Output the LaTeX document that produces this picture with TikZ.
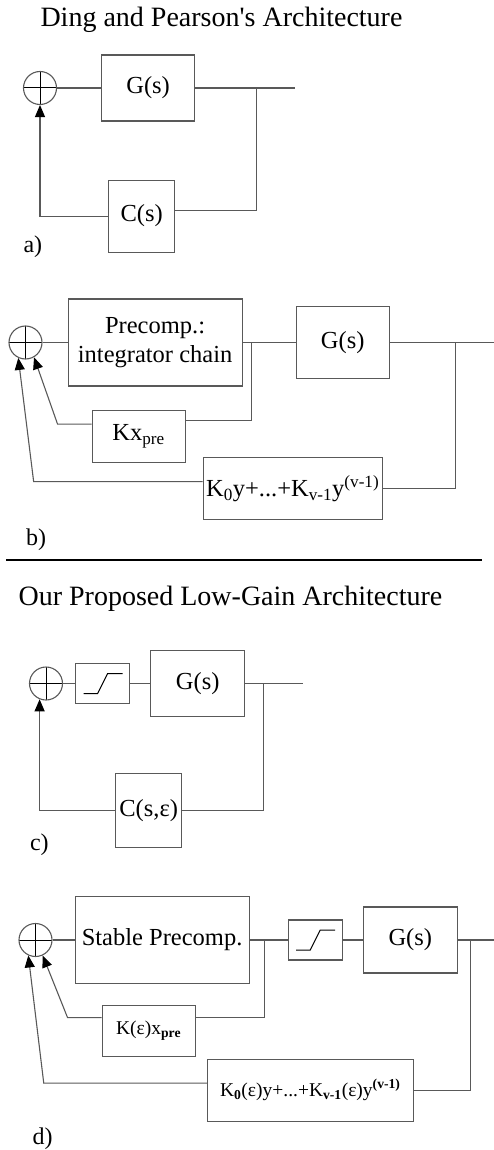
\documentclass[tikz,border=0pt]{standalone}
\usepackage{fontspec}
\setmainfont{Liberation Serif}
\newfontfamily\rawserif{Liberation Serif}
\usetikzlibrary{positioning,arrows.meta}

\begin{document}
\begin{tikzpicture}[
    x=1pt, y=1pt,
    >={Triangle[length=12pt,width=10pt,color=black]},
    wire/.style={draw=black!65, line width=1.1pt},
    block/.style={rectangle, draw=black!65, line width=1.1pt, inner sep=0pt, align=center, font=\fontsize{24.5}{29}\selectfont},
    small/.style={font=\fontsize{19.5}{23}\selectfont},
    sumpt/.style={circle, draw=black!65, line width=1.1pt, minimum size=33pt, inner sep=0pt,
        path picture={\draw[black, line width=1pt] (path picture bounding box.north) -- (path picture bounding box.south)
            (path picture bounding box.west) -- (path picture bounding box.east);}},
    satbox/.style={block, minimum width=54pt, minimum height=40pt,
        path picture={\draw[black, line width=1pt] ([shift={(-19pt,-10pt)}]path picture bounding box.center)
            -- ++(14pt,0) -- ++(10pt,20pt) -- ++(15pt,0);}},
    title/.style={anchor=base, font=\rawserif\fontsize{28}{32}\selectfont},
    tag/.style={anchor=base west, font=\fontsize{24}{28}\selectfont}
]
\useasboundingbox (0,0) rectangle (494,-1150);

% Panel a
\node[title] (titleA) at (221.5,-27) {Ding and Pearson's Architecture};
\node[sumpt] (sumA) at (40,-88) {};
\node[block, minimum width=93pt, minimum height=66pt, right=44pt of sumA] (gA) {G(s)};
\node[block, minimum width=66pt, minimum height=72pt, below=58pt of gA, xshift=-6.5pt] (cA) {C(s)};
\coordinate[right=61pt of gA] (brA);
\coordinate[right=100pt of gA] (outA);
\node[tag] (tagA) at (20,-253) {a)};

\draw[wire] (sumA) -- (gA);
\draw[wire] (gA) -- (outA);
\draw[wire] (brA) |- ([yshift=6pt]cA.east);
\draw[wire, ->] (cA.west) -| (sumA.south);

% Panel b
\node[sumpt] (sumB) at (25.5,-342.5) {};
\node[block, minimum width=174pt, minimum height=87pt, right=25pt of sumB] (preB) {Precomp.:\\integrator chain};
\node[block, minimum width=93pt, minimum height=72pt, right=53pt of preB] (gB) {G(s)};
\node[block, minimum width=93pt, minimum height=52pt, below=23pt of preB, xshift=-16.5pt] (kxB) {Kx\textsubscript{pre}};
\node[block, minimum width=179pt, minimum height=62pt, below=78pt of gB, xshift=-50pt] (kyB) {K\textsubscript{0}y+...+K\textsubscript{v-1}y\textsuperscript{(v-1)}};
\coordinate[right=9pt of preB] (brB1);
\coordinate[right=66pt of gB] (brB2);
\coordinate[right=107pt of gB] (outB);
\node[tag] (tagB) at (22.5,-545) {b)};

\draw[wire] (sumB) -- (preB);
\draw[wire] (preB) -- (gB);
\draw[wire] (gB) -- (outB);
\draw[wire] (brB1) |- ([yshift=16pt]kxB.east);
\draw[wire, ->] ([yshift=12pt]kxB.west) -- ++(-34pt,0) -- (sumB.-60);
\draw[wire] (brB2) |- (kyB.east);
\draw[wire, ->] ([yshift=7pt]kyB.west) -- ++(-169pt,0) -- (sumB.-115);

% Separator
\draw[black, line width=1.5pt] (6,-560) -- (482,-560);

% Panel c
\node[title] (titleC) at (230.5,-605) {Our Proposed Low-Gain Architecture};
\node[sumpt] (sumC) at (46,-683.5) {};
\node[satbox, right=12pt of sumC] (satC) {};
\node[block, minimum width=94pt, minimum height=66pt, right=20pt of satC] (gC) {G(s)};
\node[block, minimum width=66pt, minimum height=74pt, below=56pt of gC, xshift=-49pt] (cC) {C(s,ε)};
\coordinate[right=18pt of gC] (brC);
\coordinate[right=58pt of gC] (outC);
\node[tag] (tagC) at (26.5,-850) {c)};

\draw[wire] (sumC) -- (satC);
\draw[wire] (satC) -- (gC);
\draw[wire] (gC) -- (outC);
\draw[wire] (brC) |- (cC.east);
\draw[wire, ->] (cC.west) -| (sumC.-112);

% Panel d
\node[sumpt] (sumD) at (35.5,-940) {};
\node[block, minimum width=174pt, minimum height=87pt, right=22pt of sumD] (preD) {Stable Precomp.};
\node[satbox, right=38pt of preD] (satD) {};
\node[block, minimum width=94pt, minimum height=66pt, right=20pt of satD] (gD) {G(s)};
\node[block, small, minimum width=93pt, minimum height=51pt, below=21pt of preD, xshift=-13.5pt] (kxD) {K(ε)x\textsubscript{\textbf{pre}}};
\node[block, small, minimum width=206pt, minimum height=62pt, below=85pt of gD, xshift=-100pt] (kyD) {K\textsubscript{\textbf{0}}(ε)y+...+K\textsubscript{\textbf{v-1}}(ε)y\textsuperscript{\textbf{(v-1)}}};
\coordinate[right=15pt of preD] (brD1);
\coordinate[right=13pt of gD] (brD2);
\coordinate[right=41pt of gD] (outD);
\node[tag] (tagD) at (29,-1144) {d)};

\draw[wire] (sumD) -- (preD);
\draw[wire] (preD) -- (satD);
\draw[wire] (satD) -- (gD);
\draw[wire] (gD) -- (outD);
\draw[wire] (brD1) |- ([yshift=13.5pt]kxD.east);
\draw[wire, ->] ([yshift=13.5pt]kxD.west) -- ++(-34pt,0) -- (sumD.-65);
\draw[wire] (brD2) |- (kyD.east);
\draw[wire, ->] ([yshift=7pt]kyD.west) -- ++(-163pt,0) -- (sumD.-115);

\end{tikzpicture}
\end{document}
